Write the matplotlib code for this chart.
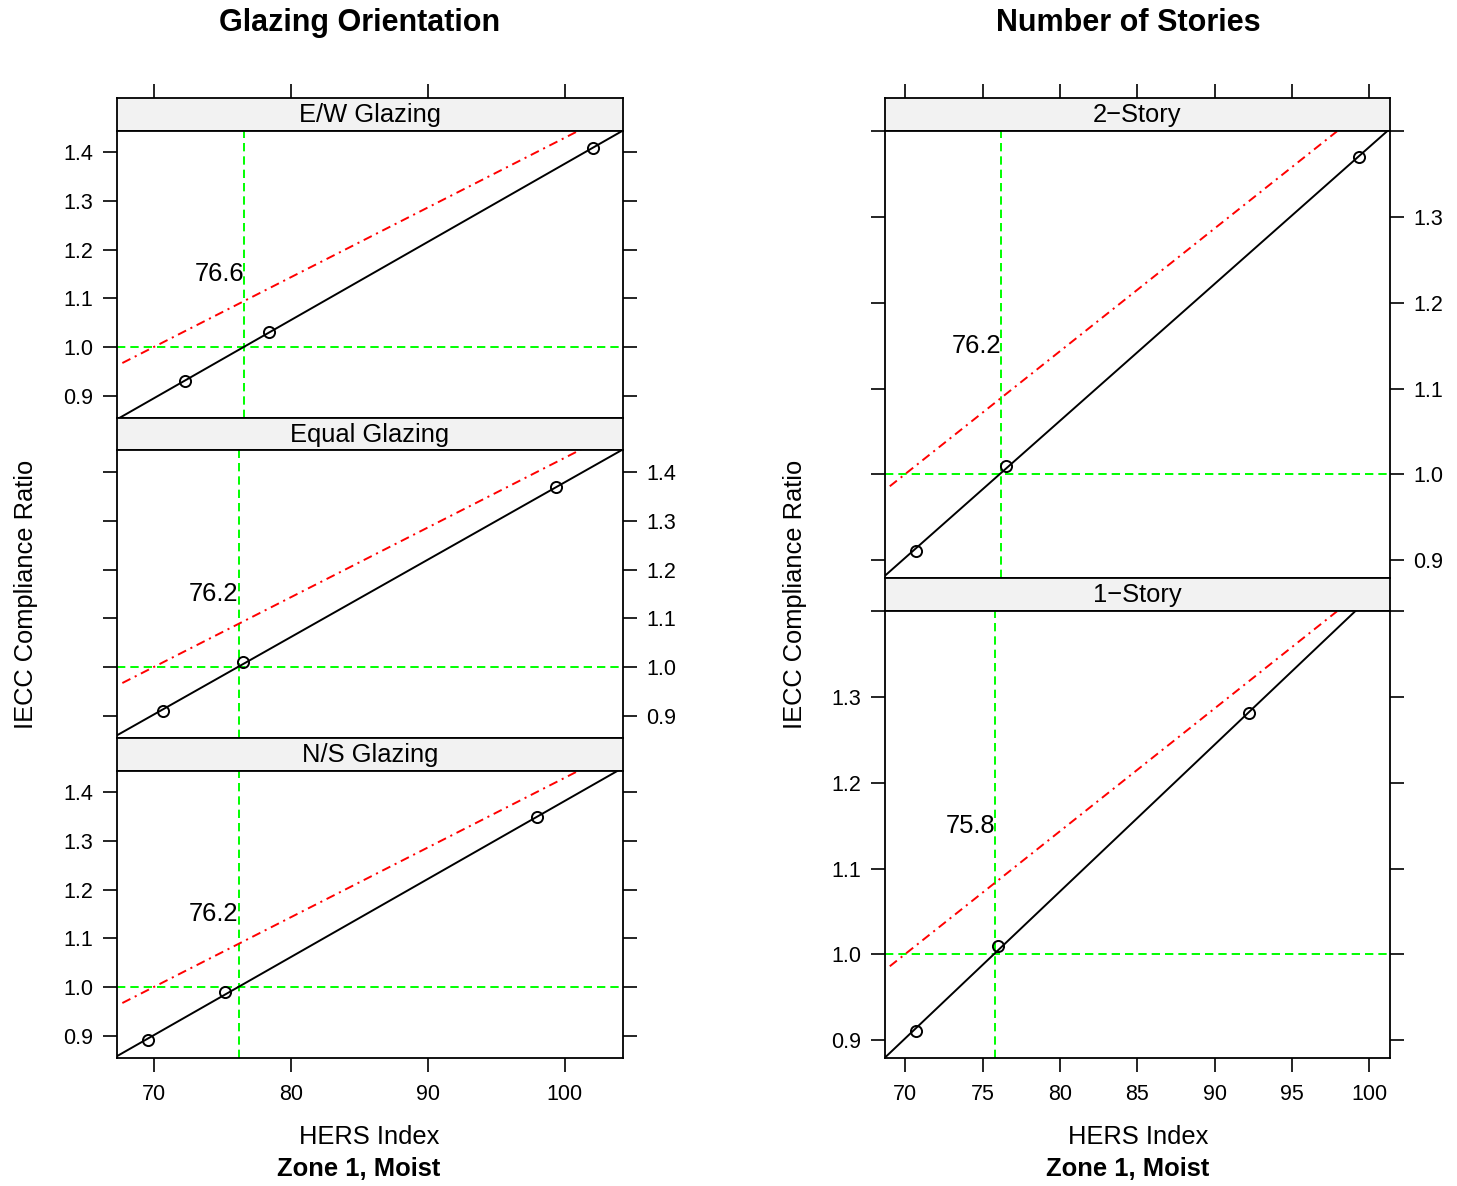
import numpy as np
import matplotlib
matplotlib.use("Agg")
import matplotlib.pyplot as plt

plt.rcParams['font.family'] = ['Liberation Sans', 'DejaVu Sans']
plt.rcParams['lines.scale_dashes'] = False

# ---------------- data ----------------
left_panels = ["E/W Glazing", "Equal Glazing", "N/S Glazing"]
ew_x = [72.3, 78.4, 102.1]
ew_y = [0.931, 1.030, 1.410]
eq_x = [70.7, 76.5, 99.4]
eq_y = [0.910, 1.010, 1.369]
ns_x = [69.6, 75.2, 98.0]
ns_y = [0.890, 0.990, 1.349]
left_cross = [76.6, 76.2, 76.2]

right_panels = ["2\u2212Story", "1\u2212Story"]
s2_x = [70.7, 76.5, 99.3]
s2_y = [0.911, 1.010, 1.370]
s1_x = [70.7, 76.0, 92.2]
s1_y = [0.910, 1.010, 1.281]
right_cross = [76.2, 75.8]

# red reference line
red_left_x = [67.7, 101.2]
red_left_y = [0.967, 1.447]
red_right_x = [69.0, 97.9]
red_right_y = [0.986, 1.400]

left_xticks = [70, 80, 90, 100]
left_yticks = [0.9, 1.0, 1.1, 1.2, 1.3, 1.4]
left_yticklabels = ["0.9", "1.0", "1.1", "1.2", "1.3", "1.4"]
right_xticks = [70, 75, 80, 85, 90, 95, 100]
right_yticks = [0.9, 1.0, 1.1, 1.2, 1.3, 1.4]
right_yticklabels = ["0.9", "1.0", "1.1", "1.2", "1.3", ""]

left_xlim = (67.31, 104.27)
left_ylim = (0.854, 1.445)
right_xlim = (68.69, 101.33)
right_ylim = (0.879, 1.401)

# ---------------- layout ----------------
W, H = 1457, 1186
fig = plt.figure(figsize=(W / 100, H / 100), dpi=100)

BASE = 18.4
TICK = 15.5


def rect(x0, y0, x1, y1):
    return [x0 / W, 1 - y1 / H, (x1 - x0) / W, (y1 - y0) / H]


def style_ticks(ax):
    ax.tick_params(direction='out', length=10, width=1.2, labelsize=TICK,
                   color='black', pad=7)
    for s in ax.spines.values():
        s.set_linewidth(1.3)


def make_panel(px0, px1, top, strip_h, plot_h, name, xs, ys, cross,
               red_x, red_y, xlim, ylim, xticks, yticks, yticklabels,
               label_side, top_ticks, bottom_ticks, xticklabels):
    sax = fig.add_axes(rect(px0, top, px1, top + strip_h))
    sax.set_facecolor('#F2F2F2')
    sax.set_xlim(*xlim)
    sax.set_ylim(0, 1)
    sax.set_yticks([])
    style_ticks(sax)
    if top_ticks:
        sax.set_xticks(xticks)
        sax.tick_params(axis='x', bottom=False, top=True,
                        labelbottom=False, labeltop=False)
    else:
        sax.set_xticks([])
    sax.text(0.5, 0.47, name, transform=sax.transAxes, ha='center',
             va='center', fontsize=BASE)

    ax = fig.add_axes(rect(px0, top + strip_h, px1, top + strip_h + plot_h))
    ax.set_xlim(*xlim)
    ax.set_ylim(*ylim)
    style_ticks(ax)
    ax.set_yticks(yticks)
    ax.set_yticklabels(yticklabels)
    ax.tick_params(axis='y', left=True, right=True,
                   labelleft=(label_side == 'left'),
                   labelright=(label_side == 'right'))
    if bottom_ticks:
        ax.set_xticks(xticks)
        ax.set_xticklabels(xticklabels)
        ax.tick_params(axis='x', bottom=True, top=False, labelbottom=True,
                       pad=9)
    else:
        ax.set_xticks([])

    # green reference lines
    ax.axhline(1.0, color='#00FF00', lw=1.4, dashes=(6, 3.6), zorder=1)
    ax.axvline(cross, color='#00FF00', lw=1.4, dashes=(6, 3.6), zorder=1)
    # red reference line
    ax.plot(red_x, red_y, color='#FF0000', lw=1.4,
            dashes=(6.5, 3.5, 1.5, 3.5), zorder=2)
    # regression line
    slope, icpt = np.polyfit(xs, ys, 1)
    ax.axline((0, icpt), slope=slope, color='black', lw=1.4, zorder=3)
    # points
    ax.plot(xs, ys, 'o', ms=8, mfc='none', mec='black', mew=1.4, zorder=4)
    ax.text(cross, 1.15, f"{cross}", ha='right', va='center', fontsize=BASE)
    return ax


# left column
left_data = [(ew_x, ew_y), (eq_x, eq_y), (ns_x, ns_y)]
sides = ['left', 'right', 'left']
for i, (name, (xs, ys), cross) in enumerate(zip(left_panels, left_data, left_cross)):
    top = 98 + i * 320
    make_panel(117, 623, top, 32.5, 287.5, name, xs, ys, cross,
               red_left_x, red_left_y, left_xlim, left_ylim,
               left_xticks, left_yticks, left_yticklabels, sides[i],
               top_ticks=(i == 0), bottom_ticks=(i == 2),
               xticklabels=[str(v) for v in left_xticks])

# right column
right_data = [(s2_x, s2_y), (s1_x, s1_y)]
rsides = ['right', 'left']
for i, (name, (xs, ys), cross) in enumerate(zip(right_panels, right_data, right_cross)):
    top = 98 + i * 480
    make_panel(885, 1390, top, 32.5, 447.5, name, xs, ys, cross,
               red_right_x, red_right_y, right_xlim, right_ylim,
               right_xticks, right_yticks, right_yticklabels, rsides[i],
               top_ticks=(i == 0), bottom_ticks=(i == 1),
               xticklabels=[str(v) for v in right_xticks])

# titles and labels
fig.text(360 / W, 1 - 23 / H, "Glazing Orientation", ha='center', va='center',
         fontsize=22, fontweight='bold')
fig.text(1128.5 / W, 1 - 23 / H, "Number of Stories", ha='center', va='center',
         fontsize=22, fontweight='bold')
fig.text(26 / W, 1 - 594 / H, "IECC Compliance Ratio", rotation=90,
         ha='center', va='center', fontsize=BASE)
fig.text(795 / W, 1 - 594 / H, "IECC Compliance Ratio", rotation=90,
         ha='center', va='center', fontsize=BASE)
fig.text(369.5 / W, 1 - 1137 / H, "HERS Index", ha='center', va='center',
         fontsize=BASE)
fig.text(1138 / W, 1 - 1137 / H, "HERS Index", ha='center', va='center',
         fontsize=BASE)
fig.text(358.5 / W, 1 - 1169 / H, "Zone 1, Moist", ha='center', va='center',
         fontsize=BASE, fontweight='bold')
fig.text(1128 / W, 1 - 1169 / H, "Zone 1, Moist", ha='center', va='center',
         fontsize=BASE, fontweight='bold')

fig.savefig("out.png", dpi=100, facecolor='white')
